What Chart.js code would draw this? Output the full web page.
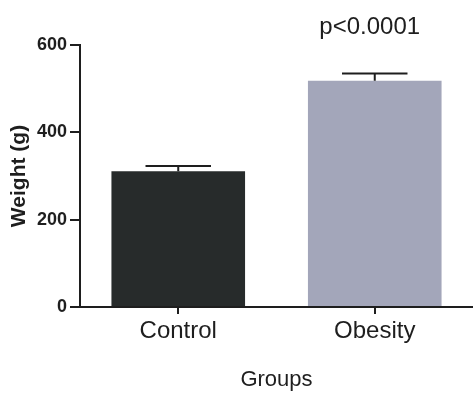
<!DOCTYPE html>
<html>
<head>
<meta charset="utf-8">
<script src="https://cdn.jsdelivr.net/npm/chart.js@4"></script>
<style>
  html, body { margin: 0; padding: 0; background: #fff; }
  canvas { display: block; }
</style>
</head>
<body>
<canvas id="myChart" width="473" height="393"></canvas>
<script>
const groups = ['Control', 'Obesity'];
const weights = [311, 518];
const errors = [12, 17];
const barColors = ['#272b2b', '#a3a6ba'];
const yTicks = [0, 200, 400, 600];
const pLabel = 'p<0.0001';
const pLabelValue = 640;

const FONT = "'Liberation Sans', Arial, sans-serif";
const INK = '#1e1e1e';

// error bars + p-value text
const extras = {
  id: 'extras',
  afterDatasetsDraw(chart) {
    const ctx = chart.ctx;
    const y = chart.scales.y;
    const bars = chart.getDatasetMeta(0).data;
    ctx.save();
    ctx.strokeStyle = INK;
    ctx.lineWidth = 2;
    bars.forEach((bar, i) => {
      const top = y.getPixelForValue(weights[i] + errors[i]);
      const half = bar.width * 0.245;
      ctx.beginPath();
      ctx.moveTo(bar.x, bar.y);
      ctx.lineTo(bar.x, top);
      ctx.moveTo(bar.x - half, top);
      ctx.lineTo(bar.x + half, top);
      ctx.stroke();
    });
    const last = bars[bars.length - 1];
    ctx.fillStyle = INK;
    ctx.font = '24px ' + FONT;
    ctx.textAlign = 'center';
    ctx.textBaseline = 'middle';
    ctx.fillText(pLabel, last.x - 5, y.getPixelForValue(pLabelValue));
    ctx.restore();
  }
};

const ctx = document.getElementById('myChart').getContext('2d');
const myChart = new Chart(ctx, {
  type: 'bar',
  data: {
    labels: groups,
    datasets: [{
      data: weights,
      backgroundColor: barColors,
      borderWidth: 0,
      barPercentage: 0.68,
      categoryPercentage: 1
    }]
  },
  options: {
    responsive: false,
    animation: false,
    layout: { padding: { top: 45, right: 0, left: 0, bottom: 0 } },
    plugins: {
      legend: { display: false },
      tooltip: { enabled: false }
    },
    scales: {
      x: {
        offset: true,
        afterFit: s => { s.height = 86; },
        border: { display: true, color: INK, width: 2 },
        grid: { offset: false, drawOnChartArea: false, tickLength: 7, color: INK, lineWidth: 2 },
        ticks: { color: INK, padding: 3, font: { family: FONT, size: 24 } },
        title: {
          display: true,
          text: 'Groups',
          color: INK,
          padding: { top: 0, bottom: 0 },
          font: { family: FONT, size: 22 }
        }
      },
      y: {
        min: 0,
        max: 600,
        afterFit: s => { s.width = 80; },
        afterBuildTicks: s => { s.ticks = yTicks.map(v => ({ value: v })); },
        border: { display: true, color: INK, width: 2 },
        grid: { drawOnChartArea: false, tickLength: 10, color: INK, lineWidth: 2 },
        ticks: { color: INK, padding: 3, font: { family: FONT, size: 18, weight: 'bold' } },
        title: {
          display: true,
          text: 'Weight (g)',
          color: INK,
          padding: { top: 7, bottom: 0 },
          font: { family: FONT, size: 21, weight: 'bold' }
        }
      }
    }
  },
  plugins: [extras]
});
</script>
</body>
</html>
